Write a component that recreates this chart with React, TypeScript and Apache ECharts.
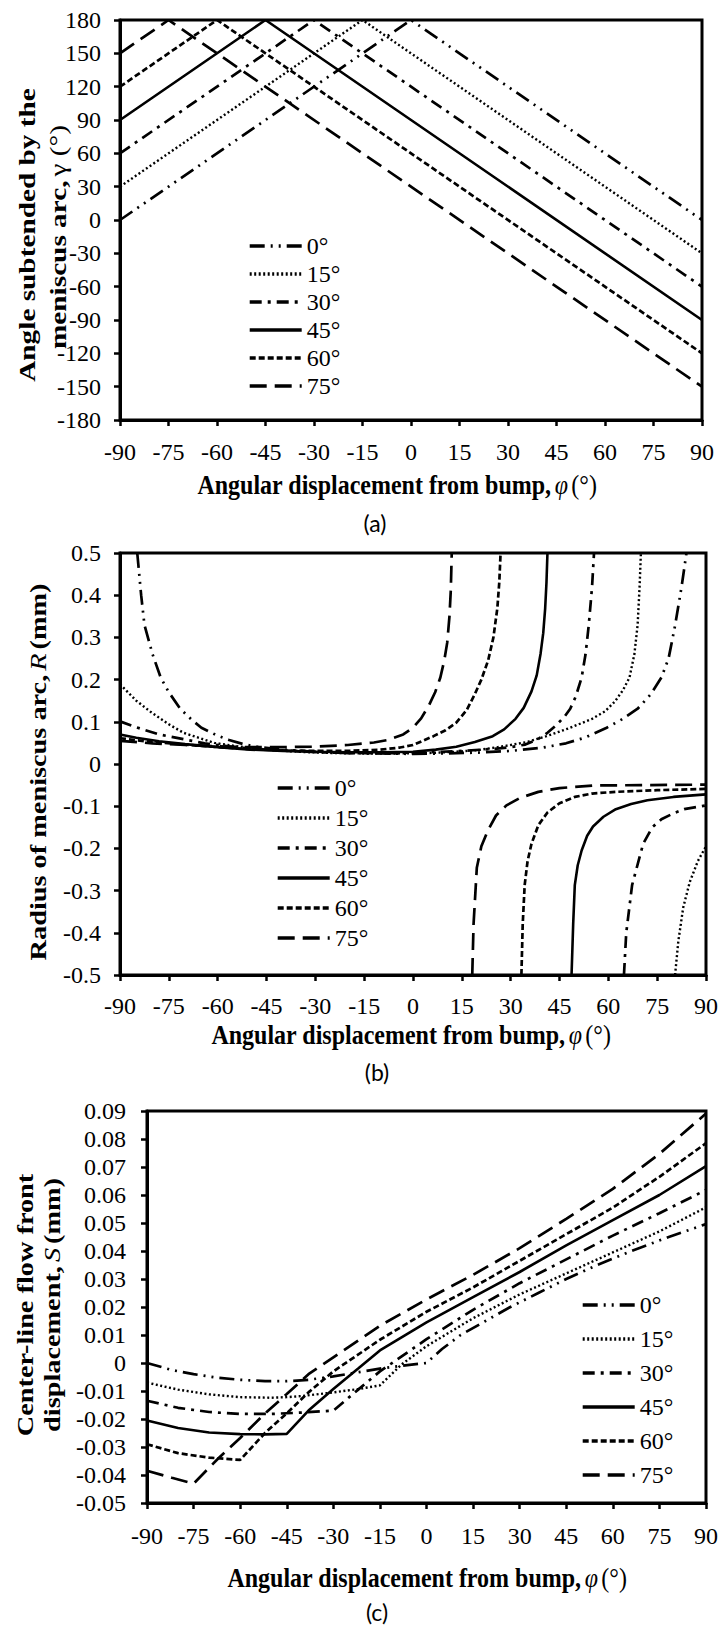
import React, { useEffect, useRef } from 'react';
import * as echarts from 'echarts';

const SERIF = "'Liberation Serif','Times New Roman',serif";
const SANS = "Lato,'Open Sans',sans-serif";

const NAMES = ['0°', '15°', '30°', '45°', '60°', '75°'];
const X_MIN = -90;
const X_MAX = 90;
const X_STEP = 15;

// Panel (a): angle subtended by the meniscus arc, gamma (deg)
const gamma0 = [[-90, 0], [0, 180], [90, 0]];
const gamma15 = [[-90, 30], [-15, 180], [90, -30]];
const gamma30 = [[-90, 60], [-30, 180], [90, -60]];
const gamma45 = [[-90, 90], [-45, 180], [90, -90]];
const gamma60 = [[-90, 120], [-60, 180], [90, -120]];
const gamma75 = [[-90, 150], [-75, 180], [90, -150]];

// Panel (b): radius of meniscus arc R (mm), upper and lower branches
const r0 = [[-84.7, 0.5], [-83.5, 0.4], [-82.5, 0.33], [-80, 0.26], [-77.5, 0.205], [-75, 0.17], [-71.5, 0.131], [-68, 0.105], [-65, 0.086], [-60, 0.067], [-56.5, 0.057], [-52, 0.047], [-48, 0.041], [-40, 0.034], [-30, 0.029], [-20, 0.026], [-10, 0.025], [0, 0.024], [10, 0.025], [20, 0.027], [30, 0.031], [40, 0.039], [47, 0.049], [53, 0.063], [59.5, 0.086], [64, 0.105], [69, 0.131], [73, 0.165], [76.3, 0.205], [78.5, 0.25], [80.5, 0.328], [82.5, 0.42], [84, 0.5]];
const r15 = [[-90, 0.189], [-85, 0.15], [-80.5, 0.123], [-75, 0.094], [-70.5, 0.074], [-65, 0.06], [-61, 0.05], [-55, 0.043], [-51, 0.039], [-45, 0.034], [-35, 0.029], [-25, 0.026], [-15, 0.025], [-5, 0.025], [5, 0.026], [13, 0.029], [20, 0.033], [27, 0.041], [35, 0.052], [41, 0.066], [48, 0.085], [55, 0.107], [59, 0.125], [62, 0.148], [64.5, 0.175], [66.5, 0.205], [68, 0.26], [69, 0.33], [69.6, 0.42], [70, 0.5]];
const r15Low = [[80.5, -0.5], [81.5, -0.42], [83, -0.34], [85, -0.28], [87.5, -0.23], [90, -0.195]];
const r30 = [[-90, 0.101], [-85, 0.087], [-78, 0.07], [-70, 0.058], [-64, 0.049], [-55, 0.04], [-45, 0.034], [-35, 0.03], [-25, 0.027], [-15, 0.026], [-5, 0.026], [5, 0.028], [15, 0.031], [25, 0.036], [30, 0.04], [34.5, 0.046], [38, 0.057], [41.3, 0.074], [44, 0.092], [46.5, 0.112], [48.3, 0.131], [50, 0.16], [51.8, 0.205], [53, 0.26], [54, 0.33], [55, 0.42], [55.6, 0.5]];
const r30Low = [[64.8, -0.5], [65.5, -0.4], [67.3, -0.287], [70.7, -0.189], [73.5, -0.15], [76.3, -0.131], [80, -0.117], [83.3, -0.107], [90, -0.098]];
const r45 = [[-90, 0.07], [-85, 0.062], [-78, 0.054], [-70, 0.047], [-60, 0.04], [-50, 0.034], [-40, 0.031], [-30, 0.029], [-20, 0.028], [-10, 0.028], [0, 0.029], [7, 0.034], [13.3, 0.041], [19, 0.052], [24.5, 0.066], [28, 0.082], [31.5, 0.107], [34, 0.133], [36.4, 0.172], [38, 0.21], [39.2, 0.262], [40, 0.31], [40.6, 0.369], [41, 0.43], [41.3, 0.5]];
const r45Low = [[48.7, -0.5], [49.2, -0.38], [49.7, -0.287], [50.6, -0.24], [51.8, -0.205], [53.5, -0.17], [55.3, -0.148], [58.5, -0.125], [62.3, -0.107], [67, -0.095], [72, -0.086], [80, -0.078], [90, -0.072]];
const r60 = [[-90, 0.061], [-80, 0.052], [-70, 0.046], [-60, 0.04], [-50, 0.035], [-40, 0.032], [-30, 0.031], [-20, 0.031], [-10, 0.034], [-4, 0.039], [0, 0.045], [6.3, 0.066], [10, 0.08], [13.3, 0.098], [16.5, 0.128], [18.9, 0.164], [21, 0.2], [23.1, 0.246], [24.7, 0.3], [25.9, 0.369], [26.5, 0.43], [26.9, 0.5]];
const r60Low = [[33.3, -0.5], [33.7, -0.38], [34.3, -0.287], [35.2, -0.23], [36.4, -0.189], [38.5, -0.145], [41.3, -0.115], [45, -0.093], [49.7, -0.078], [55, -0.07], [62.3, -0.066], [75, -0.062], [90, -0.059]];
const r75 = [[-90, 0.055], [-80, 0.049], [-70, 0.045], [-60, 0.042], [-50, 0.04], [-40, 0.04], [-30, 0.041], [-20, 0.045], [-12, 0.051], [-7.7, 0.057], [-3, 0.07], [0, 0.086], [2.5, 0.108], [4.9, 0.139], [6.8, 0.17], [8.4, 0.205], [9.6, 0.245], [10.5, 0.287], [11.2, 0.35], [11.6, 0.41], [11.9, 0.5]];
const r75Low = [[18.2, -0.5], [18.6, -0.38], [19.6, -0.246], [21, -0.195], [23.1, -0.156], [25.5, -0.122], [28.7, -0.098], [33, -0.08], [38.5, -0.066], [45, -0.057], [55.3, -0.051], [70, -0.05], [90, -0.049]];

// Panel (c): centre-line flow front displacement S (mm)
const s0 = [[-90, 0], [-82, -0.0025], [-75, -0.004], [-67, -0.0053], [-60, -0.006], [-52, -0.0065], [-45, -0.0065], [-38, -0.006], [-30, -0.0048], [-22, -0.0033], [-15, -0.002], [-8, -0.001], [0, 0], [5, 0.005], [11, 0.01], [19, 0.015], [27, 0.02], [36, 0.025], [45, 0.03], [55, 0.035], [66, 0.04], [78, 0.045], [90, 0.0496]];
const s15 = [[-90, -0.007], [-80, -0.0095], [-70, -0.0112], [-60, -0.0122], [-50, -0.0124], [-45, -0.0122], [-40, -0.0118], [-30, -0.0105], [-22, -0.0093], [-15, -0.008], [-8, -0.0005], [0, 0.006], [15, 0.016], [30, 0.0245], [45, 0.032], [60, 0.0395], [75, 0.047], [90, 0.0556]];
const s30 = [[-90, -0.0135], [-80, -0.016], [-70, -0.0175], [-60, -0.0182], [-50, -0.0182], [-40, -0.0177], [-30, -0.017], [-22, -0.0095], [-15, -0.003], [0, 0.0085], [15, 0.019], [30, 0.0285], [45, 0.037], [60, 0.0455], [75, 0.0535], [90, 0.0618]];
const s45 = [[-90, -0.0205], [-80, -0.0232], [-70, -0.0248], [-60, -0.0254], [-52, -0.0255], [-45, -0.0253], [-38, -0.017], [-30, -0.0093], [-22, -0.002], [-15, 0.0045], [0, 0.0145], [15, 0.0235], [30, 0.0325], [45, 0.042], [60, 0.051], [75, 0.06], [90, 0.0703]];
const s60 = [[-90, -0.029], [-80, -0.0322], [-70, -0.0338], [-60, -0.0346], [-52, -0.025], [-45, -0.018], [-38, -0.0105], [-30, -0.003], [-15, 0.0083], [0, 0.0183], [15, 0.027], [30, 0.0365], [45, 0.046], [60, 0.0555], [75, 0.0665], [90, 0.0785]];
const s75 = [[-90, -0.0385], [-82, -0.041], [-75, -0.0431], [-67, -0.034], [-60, -0.0268], [-52, -0.018], [-45, -0.0111], [-38, -0.004], [-30, 0.002], [-15, 0.0133], [0, 0.0227], [15, 0.0315], [30, 0.041], [45, 0.0515], [60, 0.0622], [75, 0.0747], [90, 0.0891]];

const GAMMA = [gamma0, gamma15, gamma30, gamma45, gamma60, gamma75];
const R_UP = [r0, r15, r30, r45, r60, r75];
const R_LOW = [null, r15Low, r30Low, r45Low, r60Low, r75Low];
const S = [s0, s15, s30, s45, s60, s75];

const LINE_TYPES: any[] = [[15, 6, 2, 6, 2, 6], [2, 2.5], [12, 6, 3, 6], 'solid', [6, 3], [17, 8]];
const LINE_WIDTHS = [2.7, 2.4, 2.7, 2.6, 2.7, 2.7];

function mkSeries(i: number, data: any, gi: number) {
  return {
    type: 'line',
    name: NAMES[i],
    xAxisIndex: gi,
    yAxisIndex: gi,
    data,
    symbol: 'none',
    showSymbol: false,
    silent: true,
    clip: true,
    lineStyle: { color: '#000', width: LINE_WIDTHS[i], type: LINE_TYPES[i] },
    itemStyle: { color: '#000' },
  };
}

function xAxisCfg(gi: number, margin: number) {
  return {
    type: 'value',
    gridIndex: gi,
    min: X_MIN,
    max: X_MAX,
    interval: X_STEP,
    axisLine: { show: true, onZero: false, lineStyle: { color: '#000', width: 3 } },
    axisTick: { show: true, inside: false, length: 6, lineStyle: { color: '#000', width: 2.5 } },
    axisLabel: { color: '#000', fontFamily: SERIF, fontSize: 24, margin },
    splitLine: { show: false },
  };
}

function yAxisCfg(gi: number, min: number, max: number, interval: number, margin: number) {
  return {
    type: 'value',
    gridIndex: gi,
    min,
    max,
    interval,
    axisLine: { show: true, onZero: false, lineStyle: { color: '#000', width: 3 } },
    axisTick: { show: true, inside: false, length: 6, lineStyle: { color: '#000', width: 2.5 } },
    axisLabel: { color: '#000', fontFamily: SERIF, fontSize: 24, margin },
    splitLine: { show: false },
  };
}

function legendCfg(left: number, top: number, gap: number) {
  return {
    orient: 'vertical',
    left,
    top,
    padding: 0,
    itemGap: gap,
    itemWidth: 52,
    itemHeight: 14,
    selectedMode: false,
    data: NAMES,
    itemStyle: { color: 'rgba(0,0,0,0)', borderWidth: 0 },
    lineStyle: { width: 3.4 },
    textStyle: { color: '#000', fontFamily: SERIF, fontSize: 24, lineHeight: 24, padding: [0, 0, 0, 0] },
  };
}

function txt(x: number, y: number, text: string, rich: any, rotation = 0, sx = 1, sy = 1) {
  return {
    type: 'text',
    x,
    y,
    rotation,
    scaleX: sx,
    scaleY: sy,
    silent: true,
    style: {
      text,
      rich,
      align: 'center',
      verticalAlign: 'middle',
      fill: '#000',
    },
  };
}

const RICH_T = {
  b: { fontFamily: SERIF, fontWeight: 'bold', fontSize: 24, fill: '#000' },
  i: { fontFamily: SERIF, fontStyle: 'italic', fontSize: 24, fill: '#000' },
  n: { fontFamily: SERIF, fontSize: 24, fill: '#000' },
};
const RICH_P = { p: { fontFamily: SANS, fontSize: 23, fill: '#000' } };

const X_TITLE = '{b|Angular displacement from bump,} {i|φ} {n|(°)}';
const STRETCH = 1.18;

export default function App() {
  const ref = useRef<HTMLDivElement>(null);
  useEffect(() => {
    if (!ref.current) return;
    const chart = echarts.init(ref.current, null, { renderer: 'svg' });
    const series: any[] = [];
    GAMMA.forEach((d, i) => series.push(mkSeries(i, d, 0)));
    R_UP.forEach((d, i) => series.push(mkSeries(i, d, 1)));
    R_LOW.forEach((d, i) => { if (d) series.push(mkSeries(i, d, 1)); });
    S.forEach((d, i) => series.push(mkSeries(i, d, 2)));

    const gridBase = { show: true, borderColor: '#000', borderWidth: 3, backgroundColor: 'transparent' };
    const option: any = {
      animation: false,
      backgroundColor: '#fff',
      textStyle: { fontFamily: SERIF, color: '#000' },
      grid: [
        { left: 120, top: 20, width: 582, height: 400, ...gridBase },
        { left: 120, top: 553, width: 592, height: 422, ...gridBase },
        { left: 147, top: 1111, width: 560, height: 392, ...gridBase },
      ],
      xAxis: [xAxisCfg(0, 20), xAxisCfg(1, 19), xAxisCfg(2, 21)],
      yAxis: [
        yAxisCfg(0, -180, 180, 30, 19),
        yAxisCfg(1, -0.5, 0.5, 0.1, 19),
        yAxisCfg(2, -0.05, 0.09, 0.01, 21),
      ],
      legend: [legendCfg(248, 234, 4), legendCfg(276, 776, 6), legendCfg(581, 1293, 10)],
      series,
      graphic: [
        txt(397, 485, X_TITLE, RICH_T, 0, 1, STRETCH),
        txt(411, 1035, X_TITLE, RICH_T, 0, 1, STRETCH),
        txt(427, 1578, X_TITLE, RICH_T, 0, 1, STRETCH),
        txt(375, 523, '{p|(a)}', RICH_P),
        txt(377, 1072, '{p|(b)}', RICH_P),
        txt(377, 1612, '{p|(c)}', RICH_P),
        txt(27, 235, '{b|Angle subtended by the}', RICH_T, Math.PI / 2, 1.22, 1),
        txt(58, 237, '{b|meniscus arc,} {n|γ (°)}', RICH_T, Math.PI / 2, 1.22, 1),
        txt(38, 772, '{b|Radius of meniscus arc,} {i|R} {b|(mm)}', RICH_T, Math.PI / 2, STRETCH, 1),
        txt(25, 1305, '{b|Center-line flow front}', RICH_T, Math.PI / 2, STRETCH, 1),
        txt(52, 1305, '{b|displacement,} {i|S} {b|(mm)}', RICH_T, Math.PI / 2, STRETCH, 1),
      ],
    };
    chart.setOption(option);
    return () => chart.dispose();
  }, []);
  return (
    <div
      ref={ref}
      style={{ position: 'absolute', left: 0, top: 0, width: 721, height: 1629, background: '#fff' }}
    />
  );
}
